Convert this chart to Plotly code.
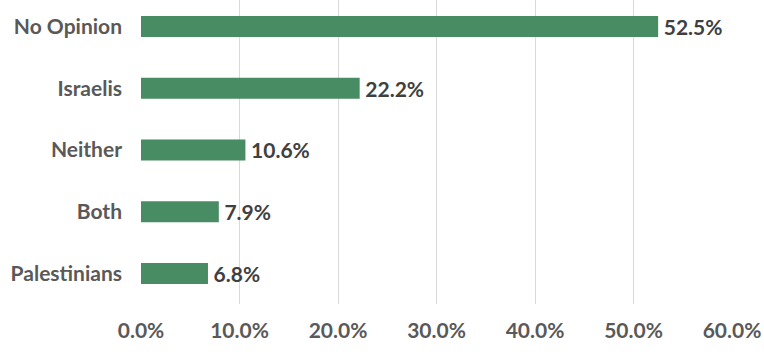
import plotly.graph_objects as go

categories = ["Palestinians", "Both", "Neither", "Israelis", "No Opinion"]
values = [6.8, 7.9, 10.6, 22.2, 52.5]
labels = [f"\u2009{v:.1f}%" for v in values]
x_ticks = [0, 10, 20, 30, 40, 50, 60]
x_tick_text = [f"{t:.1f}%" for t in x_ticks]

FONT = "Lato"
SIZE = 21

fig = go.Figure(go.Bar(
    y=categories, x=values, orientation="h",
    marker=dict(color="#478C63", line=dict(width=0)),
    width=0.34,
    text=labels, textposition="outside", constraintext="none",
    textfont=dict(family=FONT, size=SIZE, color="#404040", weight="bold"),
    cliponaxis=False,
))

fig.update_layout(
    width=764, height=356,
    margin=dict(l=141, r=32, t=0, b=52),
    paper_bgcolor="white", plot_bgcolor="white",
    showlegend=False,
    font=dict(family=FONT, size=SIZE, color="#595959"),
    xaxis=dict(
        range=[0, 60], tickvals=x_ticks, ticktext=x_tick_text,
        showgrid=True, gridcolor="#D9D9D9", gridwidth=1,
        zeroline=False, showline=False, ticks="", automargin=False,
        ticklabelstandoff=12,
        tickfont=dict(family=FONT, size=SIZE, color="#595959", weight="bold"),
    ),
    yaxis=dict(
        type="category", range=[-0.494, 4.429],
        showgrid=False, zeroline=False, showline=False, ticks="", automargin=False,
        ticklabelstandoff=18,
        tickfont=dict(family=FONT, size=SIZE, color="#595959", weight="bold"),
    ),
)

fig.write_html("out.html", config={"displayModeBar": False},
               post_script="document.body.style.margin='0';")
